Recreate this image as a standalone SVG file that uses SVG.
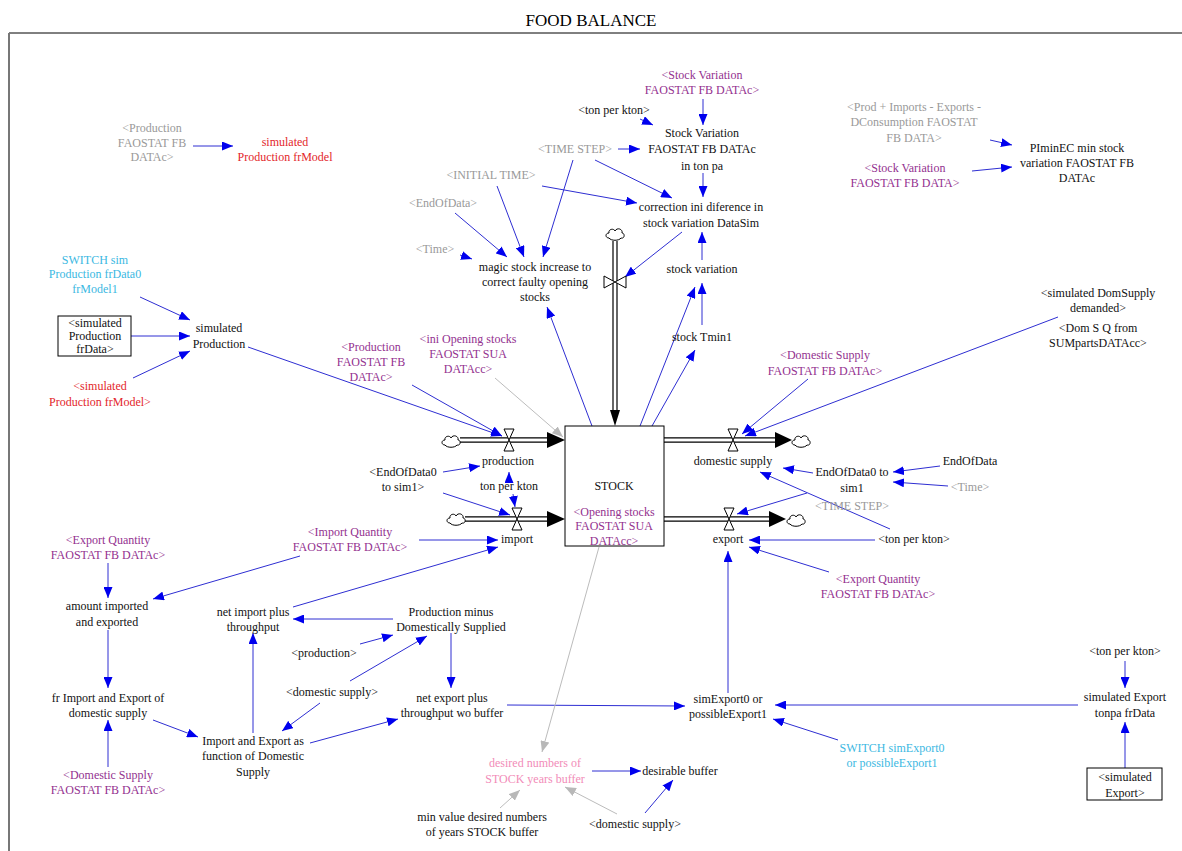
<svg xmlns="http://www.w3.org/2000/svg" width="1182" height="851" viewBox="0 0 1182 851">
<style>
text{font-family:"Liberation Serif","Times New Roman",serif;font-size:12px;text-anchor:middle;fill:#111}
.g{fill:#999}
.p{fill:#93318f}
.r{fill:#e3262b}
.c{fill:#3bb8e2}
.k{fill:#f28cb8}
.ttl{font-size:17px;fill:#000}
.ln{stroke:#2e2ed2;stroke-width:1;fill:none;marker-end:url(#ab)}
.lg{stroke:#bcbcbc;stroke-width:1;fill:none;marker-end:url(#ag)}
.pipe{stroke:#000;stroke-width:1.2;fill:none}
.valve{fill:#fff;stroke:#000;stroke-width:1}
.cloud{fill:#fff;stroke:#000;stroke-width:1}
.box{fill:#fff;stroke:#000;stroke-width:1}
</style>
<defs>
<marker id="ab" markerUnits="userSpaceOnUse" markerWidth="12" markerHeight="9" refX="11" refY="4.5" orient="auto"><path d="M0,0 L11,4.5 L0,9 Z" fill="#0000ee"/></marker>
<marker id="ag" markerUnits="userSpaceOnUse" markerWidth="12" markerHeight="9" refX="11" refY="4.5" orient="auto"><path d="M0,0 L11,4.5 L0,9 Z" fill="#b8b8b8"/></marker>
<path id="cl" class="cloud" d="M-6,4 C-10,4 -10,-1 -6,-1 C-7,-5 -1,-6 0,-3 C2,-7 8,-5 7,-1 C10,-1 10,5 6,4 C4,7 -4,7 -6,4 Z"/>
<path id="vh" class="valve" d="M-5,-11 L5,-11 L0,0 Z M-5,11 L5,11 L0,0 Z"/>
<path id="vv" class="valve" d="M-11,-6 L-11,6 L0,0 Z M11,-6 L11,6 L0,0 Z"/>
</defs>
<rect width="1182" height="851" fill="#fff"/>
<text class="ttl" x="591" y="26">FOOD BALANCE</text>
<path d="M9,33 H1182" stroke="#000" stroke-width="1"/>
<path d="M9,33 V851" stroke="#777" stroke-width="2"/>

<g id="connectors">
<!-- top left -->
<path class="ln" d="M193,146 L233,146"/>
<path class="ln" d="M140,297 L190,320"/>
<path class="ln" d="M131,336 L190,336"/>
<path class="ln" d="M133,378 L190,351"/>
<path class="ln" d="M248,347 L502,436"/>
<path class="ln" d="M412,385 L502,436"/>
<path class="lg" d="M495,378 L563,437"/>
<!-- top middle -->
<path class="ln" d="M703,99 L703,125"/>
<path class="ln" d="M640,119 L653,125"/>
<path class="ln" d="M618,149 L640,149"/>
<path class="ln" d="M703,173 L703,197"/>
<path class="ln" d="M573,160 L543,257"/>
<path class="ln" d="M595,160 L672,198"/>
<path class="ln" d="M497,186 L524,257"/>
<path class="ln" d="M542,186 L637,203"/>
<path class="ln" d="M455,213 L507,257"/>
<path class="ln" d="M460,255 L472,259"/>
<path class="ln" d="M682,232 L625,277"/>
<path class="ln" d="M702,260 L702,232"/>
<path class="ln" d="M592,426 L547,307"/>
<path class="ln" d="M640,426 L695,287"/>
<path class="ln" d="M652,426 L695,350"/>
<path class="ln" d="M702,325 L702,283"/>
<!-- top right -->
<path class="ln" d="M990,140 L1012,145"/>
<path class="ln" d="M972,171 L1012,167"/>
<path class="ln" d="M1058,317 L745,436"/>
<path class="ln" d="M808,379 L742,434"/>
<!-- around STOCK -->
<path class="ln" d="M443,472 L480,466"/>
<path class="ln" d="M509,480 L509,472"/>
<path class="ln" d="M513,494 L515,507"/>
<path class="ln" d="M443,493 L510,515"/>
<path class="ln" d="M419,540 L498,540"/>
<path class="ln" d="M293,607 L498,547"/>
<path class="ln" d="M813,473 L783,468"/>
<path class="ln" d="M890,529 L760,472"/>
<path class="ln" d="M807,493 L737,514"/>
<path class="ln" d="M940,466 L893,472"/>
<path class="ln" d="M948,486 L893,482"/>
<path class="ln" d="M875,540 L749,540"/>
<path class="ln" d="M829,572 L749,547"/>
<path class="ln" d="M728,693 L728,551"/>
<!-- bottom left -->
<path class="ln" d="M300,556 L153,599"/>
<path class="ln" d="M108,563 L108,598"/>
<path class="ln" d="M108,630 L108,688"/>
<path class="ln" d="M108,767 L108,720"/>
<path class="ln" d="M153,720 L198,737"/>
<path class="ln" d="M253,733 L253,633"/>
<path class="ln" d="M310,743 L398,719"/>
<path class="ln" d="M320,703 L282,731"/>
<path class="ln" d="M350,681 L427,636"/>
<path class="ln" d="M360,644 L393,635"/>
<path class="ln" d="M393,619 L293,619"/>
<path class="ln" d="M451,633 L451,688"/>
<path class="ln" d="M507,705 L685,706"/>
<!-- bottom right -->
<path class="ln" d="M1078,705 L775,705"/>
<path class="ln" d="M838,740 L773,719"/>
<path class="ln" d="M1125,661 L1125,688"/>
<path class="ln" d="M1125,768 L1125,722"/>
<!-- buffer -->
<path class="lg" d="M599,547 L542,752"/>
<path class="ln" d="M592,771 L641,771"/>
<path class="lg" d="M500,808 L520,790"/>
<path class="lg" d="M617,814 L565,787"/>
<path class="ln" d="M645,813 L673,780"/>
</g>

<g id="flows">
<!-- vertical inflow -->
<use href="#cl" x="615" y="234"/>
<path class="pipe" d="M613,241 V410 M617,241 V410"/>
<path d="M610,410 L620,410 L615,426 Z" fill="#000"/>
<use href="#vv" x="615" y="282"/>
<!-- production -->
<use href="#cl" x="451" y="441"/>
<path class="pipe" d="M460,437.8 H547 M460,442.2 H547"/>
<path d="M547,432 L565,440 L547,448 Z" fill="#000"/>
<use href="#vh" x="509" y="440"/>
<!-- import -->
<use href="#cl" x="456" y="519"/>
<path class="pipe" d="M465,516.8 H547 M465,521.2 H547"/>
<path d="M547,511 L565,519 L547,527 Z" fill="#000"/>
<use href="#vh" x="517" y="519"/>
<!-- domestic supply -->
<path class="pipe" d="M664,437.8 H775 M664,442.2 H775"/>
<path d="M775,432 L792,440 L775,448 Z" fill="#000"/>
<use href="#cl" x="801" y="441"/>
<use href="#vh" x="733" y="440"/>
<!-- export -->
<path class="pipe" d="M664,516.8 H769 M664,521.2 H769"/>
<path d="M769,511 L786,519 L769,527 Z" fill="#000"/>
<use href="#cl" x="796" y="520"/>
<use href="#vh" x="729" y="519"/>
</g>

<g id="STOCK">
<rect class="box" x="565" y="426" width="99" height="120"/>
<text x="614" y="490">STOCK</text>
<text class="p"><tspan x="614" y="516">&lt;Opening stocks</tspan><tspan x="614" y="530">FAOSTAT SUA</tspan><tspan x="614" y="545">DATAcc&gt;</tspan></text>
</g>

<g id="n_prodFaoGray"><text class="g"><tspan x="152" y="132">&lt;Production</tspan><tspan x="152" y="147">FAOSTAT FB</tspan><tspan x="152" y="161">DATAc&gt;</tspan></text></g>
<g id="n_simProdModel"><text class="r"><tspan x="285" y="146">simulated</tspan><tspan x="285" y="161">Production frModel</tspan></text></g>
<g id="n_stockVarFaoC"><text class="p"><tspan x="702" y="79">&lt;Stock Variation</tspan><tspan x="702" y="94">FAOSTAT FB DATAc&gt;</tspan></text></g>
<g id="n_tonPerKton1"><text x="614" y="114">&lt;ton per kton&gt;</text></g>
<g id="n_stockVarTon"><text><tspan x="702" y="137">Stock Variation</tspan><tspan x="702" y="153">FAOSTAT FB DATAc</tspan><tspan x="702" y="170">in ton pa</tspan></text></g>
<g id="n_timeStep1"><text class="g" x="575" y="153">&lt;TIME STEP&gt;</text></g>
<g id="n_initialTime"><text class="g" x="491" y="179">&lt;INITIAL TIME&gt;</text></g>
<g id="n_endOfData1"><text class="g" x="443" y="207">&lt;EndOfData&gt;</text></g>
<g id="n_time1"><text class="g" x="435" y="253">&lt;Time&gt;</text></g>
<g id="n_magic"><text><tspan x="535" y="271">magic stock increase to</tspan><tspan x="535" y="286">correct faulty opening</tspan><tspan x="535" y="301">stocks</tspan></text></g>
<g id="n_correction"><text><tspan x="701" y="211">correction ini diference in</tspan><tspan x="701" y="227">stock variation DataSim</tspan></text></g>
<g id="n_stockVariation"><text x="702" y="273">stock variation</text></g>
<g id="n_stockTmin1"><text x="702" y="341">stock Tmin1</text></g>
<g id="n_prodImpGray"><text class="g"><tspan x="914" y="111">&lt;Prod + Imports - Exports -</tspan><tspan x="914" y="126">DConsumption FAOSTAT</tspan><tspan x="914" y="142">FB DATA&gt;</tspan></text></g>
<g id="n_stockVarFaoData"><text class="p"><tspan x="905" y="172">&lt;Stock Variation</tspan><tspan x="905" y="187">FAOSTAT FB DATA&gt;</tspan></text></g>
<g id="n_pimin"><text><tspan x="1077" y="152">PIminEC min stock</tspan><tspan x="1077" y="167">variation FAOSTAT FB</tspan><tspan x="1077" y="182">DATAc</tspan></text></g>
<g id="n_switchProd"><text class="c"><tspan x="95" y="264">SWITCH sim</tspan><tspan x="95" y="278">Production frData0</tspan><tspan x="95" y="293">frModel1</tspan></text></g>
<g id="n_simProdData"><rect class="box" x="58" y="316" width="73" height="40"/><text><tspan x="95" y="327">&lt;simulated</tspan><tspan x="95" y="340">Production</tspan><tspan x="95" y="353">frData&gt;</tspan></text></g>
<g id="n_simProdModelShadow"><text class="r"><tspan x="100" y="390">&lt;simulated</tspan><tspan x="100" y="406">Production frModel&gt;</tspan></text></g>
<g id="n_simProd"><text><tspan x="219" y="332">simulated</tspan><tspan x="219" y="348">Production</tspan></text></g>
<g id="n_prodFaoPurple"><text class="p"><tspan x="371" y="351">&lt;Production</tspan><tspan x="371" y="366">FAOSTAT FB</tspan><tspan x="371" y="381">DATAc&gt;</tspan></text></g>
<g id="n_iniOpening"><text class="p"><tspan x="468" y="343">&lt;ini Opening stocks</tspan><tspan x="468" y="358">FAOSTAT SUA</tspan><tspan x="468" y="373">DATAcc&gt;</tspan></text></g>
<g id="n_production"><text x="508" y="465">production</text></g>
<g id="n_tonPerKton2"><text x="509" y="490">ton per kton</text></g>
<g id="n_endOfData0Shadow"><text><tspan x="403" y="476">&lt;EndOfData0</tspan><tspan x="403" y="491">to sim1&gt;</tspan></text></g>
<g id="n_import"><text x="517" y="543">import</text></g>
<g id="n_domesticSupply"><text x="733" y="465">domestic supply</text></g>
<g id="n_export"><text x="728" y="543">export</text></g>
<g id="n_domSupFaoR"><text class="p"><tspan x="825" y="359">&lt;Domestic Supply</tspan><tspan x="825" y="375">FAOSTAT FB DATAc&gt;</tspan></text></g>
<g id="n_simDomSup"><text><tspan x="1098" y="297">&lt;simulated DomSupply</tspan><tspan x="1098" y="312">demanded&gt;</tspan></text></g>
<g id="n_domSQ"><text><tspan x="1098" y="332">&lt;Dom S Q from</tspan><tspan x="1098" y="347">SUMpartsDATAcc&gt;</tspan></text></g>
<g id="n_endOfData0"><text><tspan x="852" y="476">EndOfData0 to</tspan><tspan x="852" y="492">sim1</tspan></text></g>
<g id="n_endOfData"><text x="970" y="465">EndOfData</text></g>
<g id="n_time2"><text class="g" x="970" y="491">&lt;Time&gt;</text></g>
<g id="n_timeStep2"><text class="g" x="852" y="510">&lt;TIME STEP&gt;</text></g>
<g id="n_tonPerKton3"><text x="914" y="543">&lt;ton per kton&gt;</text></g>
<g id="n_exportQtyR"><text class="p"><tspan x="878" y="583">&lt;Export Quantity</tspan><tspan x="878" y="598">FAOSTAT FB DATAc&gt;</tspan></text></g>
<g id="n_importQty"><text class="p"><tspan x="350" y="536">&lt;Import Quantity</tspan><tspan x="350" y="551">FAOSTAT FB DATAc&gt;</tspan></text></g>
<g id="n_exportQtyL"><text class="p"><tspan x="108" y="544">&lt;Export Quantity</tspan><tspan x="108" y="559">FAOSTAT FB DATAc&gt;</tspan></text></g>
<g id="n_amount"><text><tspan x="107" y="610">amount imported</tspan><tspan x="107" y="626">and exported</tspan></text></g>
<g id="n_netImport"><text><tspan x="253" y="616">net import plus</tspan><tspan x="253" y="631">throughput</tspan></text></g>
<g id="n_prodMinus"><text><tspan x="451" y="616">Production minus</tspan><tspan x="451" y="631">Domestically Supplied</tspan></text></g>
<g id="n_productionShadow"><text x="324" y="657">&lt;production&gt;</text></g>
<g id="n_domSupShadow1"><text x="332" y="696">&lt;domestic supply&gt;</text></g>
<g id="n_frImport"><text><tspan x="108" y="702">fr Import and Export of</tspan><tspan x="108" y="717">domestic supply</tspan></text></g>
<g id="n_domSupFaoL"><text class="p"><tspan x="108" y="779">&lt;Domestic Supply</tspan><tspan x="108" y="794">FAOSTAT FB DATAc&gt;</tspan></text></g>
<g id="n_impExpFunc"><text><tspan x="253" y="745">Import and Export as</tspan><tspan x="253" y="760">function of Domestic</tspan><tspan x="253" y="776">Supply</tspan></text></g>
<g id="n_netExport"><text><tspan x="452" y="702">net export plus</tspan><tspan x="452" y="717">throughput wo buffer</tspan></text></g>
<g id="n_simExport0"><text><tspan x="728" y="703">simExport0 or</tspan><tspan x="728" y="718">possibleExport1</tspan></text></g>
<g id="n_switchExport"><text class="c"><tspan x="892" y="752">SWITCH simExport0</tspan><tspan x="892" y="767">or possibleExport1</tspan></text></g>
<g id="n_tonPerKton4"><text x="1125" y="655">&lt;ton per kton&gt;</text></g>
<g id="n_simExportTonpa"><text><tspan x="1125" y="701">simulated Export</tspan><tspan x="1125" y="717">tonpa frData</tspan></text></g>
<g id="n_simExportBox"><rect class="box" x="1087" y="768" width="75" height="32"/><text><tspan x="1125" y="781">&lt;simulated</tspan><tspan x="1125" y="797">Export&gt;</tspan></text></g>
<g id="n_desiredYears"><text class="k"><tspan x="535" y="767">desired numbers of</tspan><tspan x="535" y="783">STOCK years buffer</tspan></text></g>
<g id="n_desirableBuffer"><text x="680" y="775">desirable buffer</text></g>
<g id="n_minValue"><text><tspan x="482" y="821">min value desired numbers</tspan><tspan x="482" y="836">of years STOCK buffer</tspan></text></g>
<g id="n_domSupShadow2"><text x="635" y="828">&lt;domestic supply&gt;</text></g>
</svg>
